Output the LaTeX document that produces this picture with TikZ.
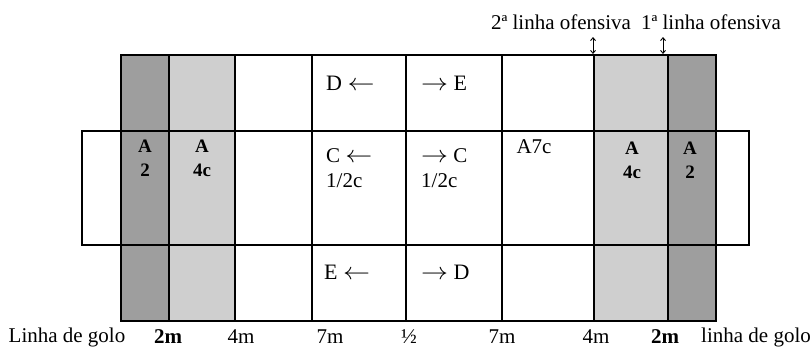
\documentclass[tikz,border=0pt]{standalone}
\usepackage{fontspec}
\setmainfont{Liberation Serif}
\usetikzlibrary{arrows.meta}
\newcommand\myla{\scalebox{1.3}[1.15]{$\leftarrow$}}
\newcommand\myra{\scalebox{1.3}[1.15]{$\rightarrow$}}
\tikzset{
  outline/.style={line width=2pt},
  inner/.style={line width=1.4pt},
  lab/.style={font=\fontsize{21}{23}\selectfont, inner sep=0pt},
  big/.style={font=\fontsize{22}{24}\selectfont, inner sep=0pt},
  mid/.style={font=\fontsize{21}{26}\selectfont, inner sep=0pt, align=left},
  zone/.style={font=\fontsize{19}{24}\selectfont\bfseries, inner sep=0pt, align=center},
  marker/.style={line width=0.9pt, {Straight Barb[length=3pt,width=5pt]}-{Straight Barb[length=3pt,width=5pt]}}
}
\begin{document}
\begin{tikzpicture}[x=1pt,y=-1pt]
\useasboundingbox (0,0) rectangle (811,348);
% shaded zones
\fill[black!38] (121,55) rectangle (169,321);
\fill[black!19] (169,55) rectangle (235,321);
\fill[black!19] (594,55) rectangle (668,321);
\fill[black!38] (668,55) rectangle (716,321);
% water rectangle
\draw[inner] (82,131) rectangle (749,245);
% vertical lines
\foreach \x in {169,235,312,406,502,594,668}
  \draw[inner] (\x,55) -- (\x,321);
% pool outline
\draw[outline] (121,55) rectangle (716,321);
% top labels and markers
\node[lab] (l2) at (561,22) {2ª linha ofensiva};
\node[lab] (l1) at (711,22) {1ª linha ofensiva};
\coordinate (t2) at (593,54);
\coordinate (t1) at (663,54);
\coordinate (s2) at (593,37);
\coordinate (s1) at (663,37);
\draw[marker] (s2) -- (t2);
\draw[marker] (s1) -- (t1);
% cell texts
\node[big, anchor=west] (de) at (326,83) {D \myla};
\node[big, anchor=west] (ee) at (421,83) {\myra\ E};
\node[mid, anchor=north west] (cl) at (326,148) {C \myla\\[-1pt]1/2c};
\node[mid, anchor=north west] (cr) at (421,148) {\myra\ C\\[-1pt]1/2c};
\node[big, anchor=west] (el) at (324,272) {E \myla};
\node[big, anchor=west] (dr) at (421,272) {\myra\ D};
\node[mid] (a7) at (534,147) {A7c};
\node[zone] (za1) at (145,158) {A\\2};
\node[zone] (za2) at (202,158) {A\\4c};
\node[zone] (za3) at (632,160) {A\\4c};
\node[zone] (za4) at (690,160) {A\\2};
% bottom labels
\node[lab] (b1) at (67,337) {Linha de golo};
\node[lab] (b2) at (168,337) {\textbf{2m}};
\node[lab] (b3) at (241,337) {4m};
\node[lab] (b4) at (330,337) {7m};
\node[lab] (b5) at (409,337) {½};
\node[lab] (b6) at (502,337) {7m};
\node[lab] (b7) at (596,337) {4m};
\node[lab] (b8) at (665,337) {\textbf{2m}};
\node[lab] (b9) at (756,337) {linha de golo};
\end{tikzpicture}
\end{document}
